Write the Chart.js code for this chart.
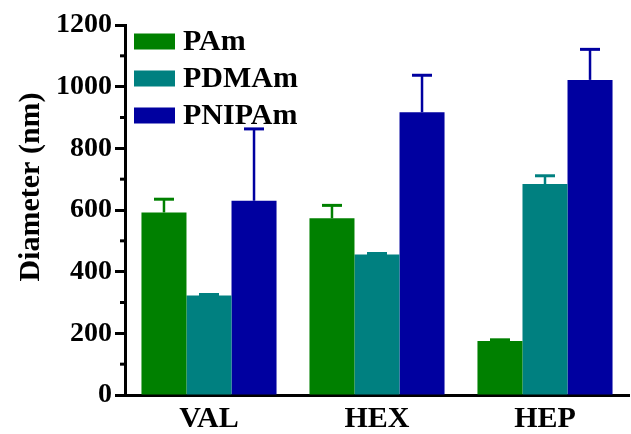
<!DOCTYPE html>
<html>
<head>
<meta charset="utf-8">
<script src="https://cdn.jsdelivr.net/npm/chart.js@4"></script>
<style>
  html, body { margin: 0; padding: 0; background: #fff; }
  #wrap { width: 631px; height: 434px; position: relative; }
</style>
</head>
<body>
<div id="wrap"><canvas id="chart"></canvas></div>
<script>
// data
const categories   = ['VAL', 'HEX', 'HEP'];
const seriesNames  = ['PAm', 'PDMAm', 'PNIPAm'];
const pamValues    = [592, 573, 175];
const pamErrors    = [43, 42, 4];
const pdmamValues  = [323, 456, 684];
const pdmamErrors  = [3, 3, 27];
const pnipamValues = [630, 917, 1022];
const pnipamErrors = [233, 120, 99];
const yTicks       = [0, 200, 400, 600, 800, 1000, 1200];
const yMinorTicks  = [100, 300, 500, 700, 900, 1100];

const colors = ['#008000', '#008080', '#0000A0'];
const FONT = '"Liberation Serif", "Times New Roman", serif';

// upper error bars, drawn through the y scale
const errorBars = {
  id: 'errorBars',
  afterDatasetsDraw(chart) {
    const ctx = chart.ctx;
    const y = chart.scales.y;
    chart.data.datasets.forEach((ds, i) => {
      const meta = chart.getDatasetMeta(i);
      meta.data.forEach((bar, j) => {
        const top = y.getPixelForValue(ds.data[j] + ds.errors[j]);
        ctx.save();
        ctx.strokeStyle = ds.backgroundColor;
        ctx.lineWidth = 2.5;
        ctx.beginPath();
        ctx.moveTo(bar.x, bar.y);
        ctx.lineTo(bar.x, top);
        ctx.stroke();
        ctx.lineWidth = 3;
        ctx.beginPath();
        ctx.moveTo(bar.x - 10, top);
        ctx.lineTo(bar.x + 10, top);
        ctx.stroke();
        ctx.restore();
      });
    });
  }
};

// minor ticks, y title and the legend inside the plot
const extras = {
  id: 'extras',
  afterDraw(chart) {
    const ctx = chart.ctx;
    const y = chart.scales.y;
    const left = chart.chartArea.left;
    ctx.save();
    ctx.strokeStyle = '#000';
    ctx.lineWidth = 3;
    yMinorTicks.forEach(v => {
      const py = y.getPixelForValue(v);
      ctx.beginPath();
      ctx.moveTo(left - 5, py);
      ctx.lineTo(left, py);
      ctx.stroke();
    });

    ctx.fillStyle = '#000';
    ctx.font = 'bold 30px ' + FONT;
    ctx.textAlign = 'center';
    ctx.textBaseline = 'middle';
    ctx.translate(31, 187);
    ctx.rotate(-Math.PI / 2);
    ctx.fillText('Diameter (nm)', 0, 0);
    ctx.restore();

    ctx.save();
    ctx.font = 'bold 30px ' + FONT;
    ctx.textAlign = 'left';
    ctx.textBaseline = 'middle';
    chart.data.datasets.forEach((ds, i) => {
      const cy = 41.5 + i * 37;
      ctx.fillStyle = ds.backgroundColor;
      ctx.fillRect(134, cy - 8, 41, 16);
      ctx.fillStyle = '#000';
      ctx.fillText(ds.label, 183, cy + 1);
    });
    ctx.restore();
  }
};

new Chart(document.getElementById('chart'), {
  type: 'bar',
  data: {
    labels: categories,
    datasets: [
      { label: seriesNames[0], data: pamValues, errors: pamErrors, backgroundColor: colors[0] },
      { label: seriesNames[1], data: pdmamValues, errors: pdmamErrors, backgroundColor: colors[1] },
      { label: seriesNames[2], data: pnipamValues, errors: pnipamErrors, backgroundColor: colors[2] }
    ]
  },
  options: {
    responsive: true,
    maintainAspectRatio: false,
    animation: false,
    layout: { padding: { top: 25, right: 2, left: 0, bottom: 0 } },
    datasets: { bar: { categoryPercentage: 0.804, barPercentage: 1.0, borderWidth: 0 } },
    plugins: { legend: { display: false }, tooltip: { enabled: false } },
    scales: {
      x: {
        afterFit: s => { s.height = 39; },
        grid: { display: true, drawOnChartArea: false, drawTicks: false },
        border: { display: true, color: '#000', width: 3 },
        ticks: { color: '#000', padding: 6, font: { family: FONT, size: 30, weight: 'bold' } }
      },
      y: {
        min: 0,
        max: 1200,
        afterFit: s => { s.width = 125; },
        afterBuildTicks: s => { s.ticks = yTicks.map(v => ({ value: v })); },
        grid: { display: true, drawOnChartArea: false, drawTicks: true, tickLength: 10, tickWidth: 3, tickColor: '#000' },
        border: { display: true, color: '#000', width: 3 },
        ticks: {
          color: '#000', padding: 3,
          font: { family: FONT, size: 28, weight: 'bold' },
          callback: v => String(v)
        }
      }
    }
  },
  plugins: [errorBars, extras]
});
</script>
</body>
</html>
